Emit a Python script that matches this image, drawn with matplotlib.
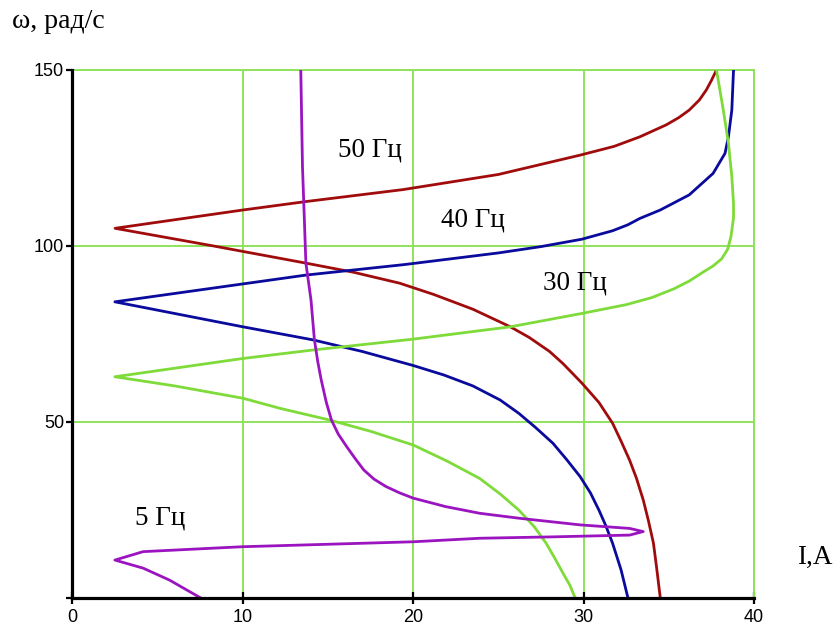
import matplotlib.pyplot as plt

# Механические характеристики ω(I) при частотном регулировании
i_50 = [34.5, 34.3, 34.1, 33.8, 33.5, 33.1, 32.7, 32.2, 31.7, 30.9, 29.9, 28.8, 28.0,
        26.8, 25.7, 23.5, 21.2, 19.2, 16.5, 13.7, 8.25, 2.5,
        10.0, 13.7, 19.4, 25.0, 29.8, 31.8, 33.3, 34.85, 35.6, 36.2, 36.8, 37.2, 37.5, 37.8]
w_50 = [0, 8.0, 15.5, 22.0, 27.8, 34.0, 39.1, 44.5, 49.6, 55.5, 61.0, 66.5, 70.0,
        74.0, 77.0, 82.0, 86.2, 89.4, 92.5, 95.1, 100.0, 105.0,
        110.2, 112.6, 116.0, 120.3, 125.8, 128.3, 131.0, 134.4, 136.5, 138.6, 141.5, 144.3, 147.0, 150.0]

i_40 = [32.6, 32.2, 31.7, 31.3, 30.9, 30.4, 29.8, 29.0, 28.2, 27.2, 26.2, 25.1, 23.5,
        21.8, 20.0, 17.0, 14.1, 10.0, 2.49,
        13.7, 19.5, 25.0, 27.5, 29.9, 31.7, 32.6, 33.3, 34.5, 36.2, 37.6, 38.3, 38.5, 38.7, 38.8]
w_40 = [0, 7.9, 15.5, 20.5, 24.9, 29.8, 34.4, 39.3, 43.9, 48.3, 52.4, 56.2, 60.2,
        63.3, 66.0, 70.0, 73.3, 77.0, 84.1,
        91.7, 94.7, 98.0, 99.8, 101.9, 104.3, 106.0, 107.8, 110.2, 114.5, 120.6, 126.3, 131.0, 138.6, 150.0]

i_30 = [29.5, 29.2, 28.8, 28.3, 27.8, 27.1, 26.2, 25.1, 23.9, 22.0, 20.0, 17.5, 15.1,
        12.2, 10.0, 6.0, 2.49,
        10.0, 14.1, 20.0, 25.7, 29.9, 32.5, 34.0, 35.3, 36.2, 37.0, 37.6, 38.1, 38.45,
        38.65, 38.8, 38.8, 38.7, 38.5, 38.2, 37.8]
w_30 = [0, 3.5, 6.9, 11.3, 15.5, 20.2, 24.9, 29.5, 33.9, 38.8, 43.4, 47.3, 50.5,
        53.8, 56.7, 60.2, 62.8,
        68.0, 70.4, 73.5, 77.0, 80.8, 83.3, 85.3, 87.8, 90.0, 92.5, 94.3, 96.3, 99.0,
        102.6, 108.0, 112.0, 119.7, 129.2, 138.6, 150.0]

i_5 = [7.5, 5.7, 4.15, 2.49, 4.15, 10.0, 12.2, 20.0, 23.9, 28.2, 32.7, 33.5,
       32.7, 29.8, 26.2, 23.9, 21.9, 20.0, 19.2, 18.4, 17.7, 17.1, 16.6, 16.1, 15.6,
       15.2, 14.9, 14.6, 14.4, 14.2, 14.0, 13.7, 13.5, 13.4]
w_5 = [0, 5.0, 8.4, 10.7, 13.1, 14.5, 14.8, 15.9, 16.9, 17.3, 17.8, 18.8,
       19.7, 20.7, 22.6, 24.0, 25.9, 28.3, 29.8, 31.6, 33.7, 36.3, 39.5, 42.9, 46.5,
       50.5, 55.5, 61.9, 67.0, 73.3, 84.6, 95.1, 122.5, 150.0]

x_ticks = [0, 10, 20, 30, 40]
y_ticks = [0, 50, 100, 150]

GRID = '#8EE35C'

fig = plt.figure(figsize=(8.37, 6.27), dpi=100)
ax = fig.add_axes([0.0866, 0.0467, 0.8142, 0.8417])

ax.plot(i_50, w_50, color='#A00C0C', lw=2.0, zorder=3)
ax.plot(i_40, w_40, color='#0A0A9C', lw=2.0, zorder=3)
ax.plot(i_30, w_30, color='#7EDB3A', lw=2.0, zorder=3)
ax.plot(i_5, w_5, color='#9A14C0', lw=2.0, zorder=3)

ax.set_xlim(0, 40)
ax.set_ylim(0, 150)
ax.set_xticks(x_ticks)
ax.set_yticks(y_ticks)
ax.set_yticklabels(['', '50', '100', '150'])
ax.grid(True, color=GRID, lw=1.4, zorder=1)

for s in ('left', 'bottom'):
    ax.spines[s].set_color('black')
    ax.spines[s].set_linewidth(2.3)
    ax.spines[s].set_zorder(4)
for s in ('top', 'right'):
    ax.spines[s].set_color(GRID)
    ax.spines[s].set_linewidth(1.4)

ax.tick_params(axis='x', direction='inout', length=8, width=1.6, pad=4,
               labelsize=13)
ax.tick_params(axis='y', direction='out', length=4, width=1.6, pad=2,
               labelsize=13)
for lab in ax.get_xticklabels() + ax.get_yticklabels():
    lab.set_family('Liberation Sans')

serif = 'Liberation Serif'
ax.text(15.6, 127.3, '50 Гц', family=serif, fontsize=19.5, va='center')
ax.text(21.65, 107.3, '40 Гц', family=serif, fontsize=19.5, va='center')
ax.text(27.6, 89.4, '30 Гц', family=serif, fontsize=19.5, va='center')
ax.text(3.67, 22.6, '5 Гц', family=serif, fontsize=19.5, va='center')

fig.text(12 / 837, 1 - 21 / 627, 'ω, рад/с', family=serif, fontsize=20, va='center')
fig.text(797 / 837, 1 - 557 / 627, 'I,A', family=serif, fontsize=19.5, va='center')

fig.savefig('out.png', dpi=100)
